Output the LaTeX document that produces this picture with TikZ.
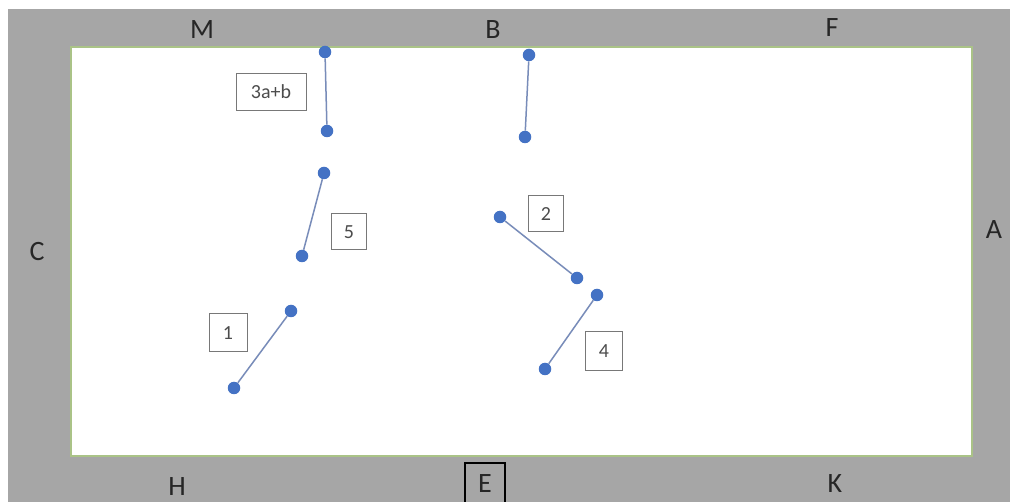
\documentclass[tikz,border=0pt]{standalone}
\usepackage{fontspec}
\setmainfont{Carlito}
\usetikzlibrary{calc}

\begin{document}
\begin{tikzpicture}[x=1pt, y=-1pt,
        dot/.style={circle, fill=dotblue, inner sep=0pt, minimum size=12.5pt},
        seg/.style={draw=segblue, line width=1.5pt},
        tag/.style={draw=boxgray, line width=1pt, inner sep=0pt, minimum width=35pt, minimum height=36pt, font=\fontsize{20}{20}\selectfont, text=black!70},
        side/.style={font=\fontsize{28}{28}\selectfont, text=black!85}]
        \definecolor{dotblue}{RGB}{68,114,196}
        \definecolor{segblue}{RGB}{120,140,185}
        \definecolor{boxgray}{RGB}{120,120,120}
        \definecolor{arena}{RGB}{166,166,166}
        \definecolor{edge}{RGB}{170,195,135}

        \useasboundingbox (0,0) rectangle (1010,502);
        \clip (0,0) rectangle (1010,502);
        \fill[white] (0,0) rectangle (1010,502);
        \fill[arena] (8,9) rectangle (1010,502);
        \draw[edge, fill=white, line width=1.2pt] (71,47) rectangle (972,456);

        % letters round the arena
        \node[side] (M) at (202,30) {M};
        \node[side] (B) at (493,30) {B};
        \node[side] (F) at (832,28) {F};
        \node[side] (C) at (37,252) {C};
        \node[side] (A) at (994,230) {A};
        \node[side] (H) at (177,487) {H};
        \node[side, draw=black, line width=1.2pt, minimum width=40pt, minimum height=42pt] (E) at (485,484) {E};
        \node[side] (K) at (835,484) {K};

        % end points
        \node[dot] (P1) at (325,52) {};
        \node[dot] (P2) at (327,131) {};
        \node[dot] (P3) at (324,173) {};
        \node[dot] (P4) at (302,256) {};
        \node[dot] (P5) at (291,311) {};
        \node[dot] (P6) at (234,388) {};
        \node[dot] (Q1) at (529,55) {};
        \node[dot] (Q2) at (525,137) {};
        \node[dot] (Q3) at (500,217) {};
        \node[dot] (Q4) at (577,278) {};
        \node[dot] (Q5) at (597,295) {};
        \node[dot] (Q6) at (545,369) {};

        \draw[seg] (P1) -- (P2);
        \draw[seg] (P3) -- (P4);
        \draw[seg] (P5) -- (P6);
        \draw[seg] (Q1) -- (Q2);
        \draw[seg] (Q3) -- (Q4);
        \draw[seg] (Q5) -- (Q6);

        % labels
        \node[tag, minimum width=70pt, minimum height=37pt] (T3ab) at (271,92) {3a+b};
        \node[tag] (T5) at (349,232) {5};
        \node[tag, minimum width=38pt, minimum height=38pt] (T1) at (228,333) {1};
        \node[tag] (T2) at (546,214) {2};
        \node[tag, minimum width=37pt, minimum height=39pt] (T4) at (604,351) {4};
    \end{tikzpicture}
\end{document}
